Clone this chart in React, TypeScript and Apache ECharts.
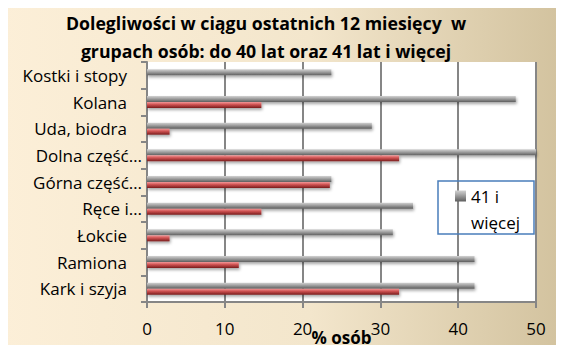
import React, { useEffect, useRef } from "react";
import * as echarts from "echarts";

const categories = [
  "Kark i szyja",
  "Ramiona",
  "Łokcie",
  "Ręce i…",
  "Górna część…",
  "Dolna część…",
  "Uda, biodra",
  "Kolana",
  "Kostki i stopy",
];
const truncated = [false, false, false, true, true, true, false, false, false];
const upTo40 = [32.4, 11.8, 2.9, 14.7, 23.5, 32.4, 2.9, 14.7, 0];
const over41 = [42.1, 42.1, 31.6, 34.2, 23.7, 50.0, 28.9, 47.4, 23.7];
const xTicks = [0, 10, 20, 30, 40, 50];
const titleLines = [
  "Dolegliwości w ciągu ostatnich 12 miesięcy \u00a0w",
  "grupach osób: do 40 lat oraz 41 lat i więcej",
];
const seriesNames = ["41 i więcej", "do 40 lat"];
const legendLines = ["41 i", "więcej"];

const FONT = "'Open Sans', 'Noto Sans', sans-serif";

export default function App() {
  const ref = useRef<HTMLDivElement>(null);
  useEffect(() => {
    const chart = echarts.init(ref.current!, null, { renderer: "svg" });
    const grayGrad = new echarts.graphic.LinearGradient(0, 0, 0, 1, [
      { offset: 0, color: "#d2d2d2" },
      { offset: 0.35, color: "#ababab" },
      { offset: 1, color: "#5e5e5e" },
    ]);
    const redGrad = new echarts.graphic.LinearGradient(0, 0, 0, 1, [
      { offset: 0, color: "#f29a9a" },
      { offset: 0.4, color: "#d25555" },
      { offset: 1, color: "#7a1c1c" },
    ]);
    const barShadow = {
      shadowBlur: 3,
      shadowOffsetY: 2,
      shadowOffsetX: 1,
      shadowColor: "rgba(0,0,0,0.35)",
    };
    chart.setOption({
      animation: false,
      backgroundColor: new echarts.graphic.LinearGradient(0, 0, 1, 0, [
        { offset: 0, color: "#fcefd8" },
        { offset: 0.55, color: "#f3e6cc" },
        { offset: 1, color: "#d2c29e" },
      ]),
      title: {
        text: titleLines.join("\n"),
        left: 261,
        textAlign: "center",
        top: 4,
        textStyle: {
          fontFamily: FONT,
          fontWeight: "bold",
          fontSize: 17.7,
          lineHeight: 28,
          color: "#000",
        },
      },
      grid: {
        left: 147,
        right: 28,
        top: 62,
        bottom: 51,
        show: true,
        backgroundColor: "#ffffff",
        borderWidth: 0,
        containLabel: false,
        outerBoundsMode: "none",
      },
      legend: {
        data: [seriesNames[0]],
        left: 455,
        top: 186,
        padding: 0,
        itemWidth: 11,
        itemHeight: 11,
        icon: "rect",
        formatter: () => legendLines[0],
        textStyle: {
          fontFamily: FONT,
          fontSize: 17,
          lineHeight: 20,
          color: "#000",
        },
      },
      graphic: [
        {
          type: "rect",
          shape: { x: 438, y: 181, width: 96, height: 53 },
          style: { fill: "none", stroke: "#4a7ebb", lineWidth: 1.5 },
          z: 10,
        },
        {
          type: "text",
          x: 471,
          y: 222,
          style: {
            text: legendLines[1],
            fontFamily: FONT,
            fontSize: 17,
            fill: "#000",
            verticalAlign: "middle",
            align: "left",
          },
          z: 10,
        },
      ],
      xAxis: {
        type: "value",
        min: 0,
        max: 50,
        interval: 10,
        name: "% osób",
        nameLocation: "middle",
        nameGap: 27,
        nameMoveOverlap: false,
        nameTextStyle: {
          fontFamily: FONT,
          fontWeight: "bold",
          fontSize: 17,
          color: "#000",
        },
        axisLine: { show: true, lineStyle: { color: "#868686", width: 2 } },
        axisTick: { show: true, length: 6, lineStyle: { color: "#868686", width: 2 } },
        axisLabel: {
          fontFamily: FONT,
          fontSize: 17,
          color: "#000",
          margin: 18,
          formatter: (v: number) => (xTicks.includes(v) ? String(v) : ""),
        },
        splitLine: { show: true, lineStyle: { color: "#868686", width: 2 } },
      },
      yAxis: {
        type: "category",
        data: categories,
        axisLine: { show: true, lineStyle: { color: "#868686", width: 2 } },
        axisTick: { show: true, length: 6, lineStyle: { color: "#868686", width: 2 } },
        axisLabel: {
          fontFamily: FONT,
          fontSize: 17,
          color: "#000",
          margin: 5,
          formatter: (v: string, i: number) =>
            truncated[i] ? `{t|${v}}` : `{t|${v}}{s|\u00a0}`,
          rich: {
            t: { fontFamily: FONT, fontSize: 17, color: "#000" },
            s: { fontFamily: FONT, fontSize: 17, width: 15 },
          },
        },
      },
      series: [
        {
          name: seriesNames[0],
          type: "bar",
          data: over41,
          barWidth: 6,
          barGap: "0%",
          itemStyle: { color: grayGrad, ...barShadow },
        },
        {
          name: seriesNames[1],
          type: "bar",
          data: upTo40,
          barWidth: 6,
          barGap: "0%",
          itemStyle: { color: redGrad, ...barShadow },
        },
      ],
    });
    return () => chart.dispose();
  }, []);
  return <div ref={ref} style={{ width: 564, height: 353, margin: -8 }} />;
}
